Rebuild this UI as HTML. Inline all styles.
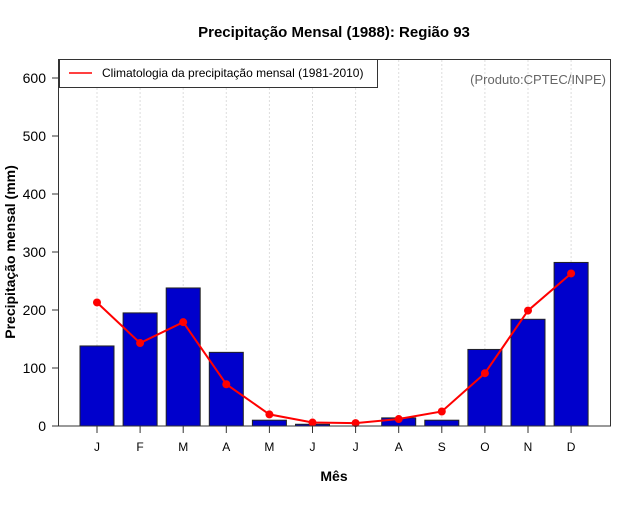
<!DOCTYPE html>
<html><head><meta charset="utf-8"><style>
body{margin:0;background:#fff;font-family:"Liberation Sans",sans-serif}
</style></head><body>
<svg id="chart" width="640" height="500" xmlns="http://www.w3.org/2000/svg" font-family="Liberation Sans, sans-serif">
<rect width="640" height="500" fill="#fff"/>
<text x="334" y="37" text-anchor="middle" font-size="15" font-weight="bold">Precipitação Mensal (1988): Região 93</text>
<text x="334" y="481" text-anchor="middle" font-size="14" font-weight="bold">Mês</text>
<text transform="translate(15,252) rotate(-90)" text-anchor="middle" font-size="14" font-weight="bold">Precipitação mensal (mm)</text>
<g id="grid"></g><g id="bars"></g><g id="line"></g><g id="axes"></g>
<rect x="58.5" y="59.5" width="552" height="366.5" fill="none" stroke="#333" stroke-width="1"/>
<g>
<rect x="59.5" y="59.5" width="318" height="28" fill="#fff" stroke="#333"/>
<line x1="69" y1="73" x2="92" y2="73" stroke="red" stroke-width="1.5"/>
<text x="102" y="77" font-size="12">Climatologia da precipitação mensal (1981-2010)</text>
</g>
<text x="606" y="84" text-anchor="end" font-size="13" fill="#666">(Produto:CPTEC/INPE)</text>
</svg>
<script>
const months=["J","F","M","A","M","J","J","A","S","O","N","D"];
const observed=[138,195,238,127,10,3,0,14,10,132,184,282];
const climatology=[213,143,179,72,20,6,5,12,25,91,199,263];
const yTicks=[0,100,200,300,400,500,600];
const NS="http://www.w3.org/2000/svg";
const xs=i=>97+i*43.1;
const ys=v=>426-v*0.58;
function mk(tag,attrs,parent){const e=document.createElementNS(NS,tag);for(const k in attrs)e.setAttribute(k,attrs[k]);document.getElementById(parent).appendChild(e);return e;}
months.forEach((m,i)=>{
  const g=mk("line",{x1:xs(i),x2:xs(i),y1:60,y2:426,stroke:"#ddd","stroke-dasharray":"2,2"},"grid");
  
  
  const b=mk("rect",{x:xs(i)-17,y:ys(observed[i]),width:34,height:426-ys(observed[i]),fill:"#0000cc",stroke:"#222","stroke-width":1},"bars");
  
  
  const t=mk("line",{x1:xs(i),x2:xs(i),y1:426,y2:433,stroke:"#333"},"axes");
  
  
  const l=mk("text",{x:xs(i),y:451,"text-anchor":"middle","font-size":12},"axes");
  l.textContent=m;
  
  
});
const p=mk("polyline",{points:climatology.map((v,i)=>xs(i)+","+ys(v)).join(" "),fill:"none",stroke:"red","stroke-width":2},"line");


climatology.forEach((v,i)=>{
  const c=mk("circle",{cx:xs(i),cy:ys(v),r:4,fill:"red"},"line");
  
  
});
yTicks.forEach(v=>{
  const t=mk("line",{x1:52,x2:58,y1:ys(v),y2:ys(v),stroke:"#333"},"axes");
  
  
  const l=mk("text",{x:46,y:ys(v)+5,"text-anchor":"end","font-size":14},"axes");
  l.textContent=v;
  
  
});
</script>
</body></html>
